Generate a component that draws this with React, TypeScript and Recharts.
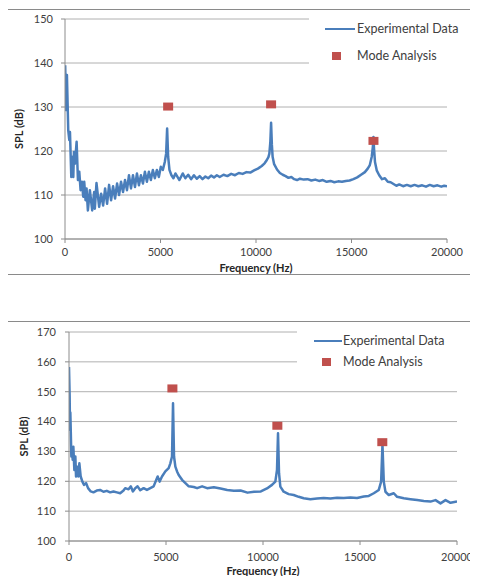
import {
  ComposedChart,
  Line,
  Scatter,
  XAxis,
  YAxis,
  CartesianGrid,
  Legend
} from 'recharts'

// [frequency Hz, SPL dB]
const topExperimental: [number, number][] = [
  [10, 139.5], [50, 129.3], [100, 137.3], [170, 124.7], [225, 122.5], [260, 124.3],
  [330, 114.1], [400, 118.7], [434, 114.1], [469, 119.8], [521, 117.1], [608, 122.1],
  [677, 113.4], [747, 115.3], [816, 111.1], [885, 113.0], [955, 109.6], [1007, 113.0],
  [1076, 108.8], [1128, 111.5], [1198, 106.5], [1302, 111.1], [1424, 106.5], [1528, 110.7],
  [1562, 106.9], [1649, 112.7], [1788, 107.3], [1892, 110.3], [1996, 107.6], [2100, 111.5],
  [2204, 108.0], [2309, 112.3], [2413, 108.8], [2517, 112.0], [2621, 109.2], [2726, 112.6],
  [2830, 110.0], [2934, 113.0], [3038, 110.7], [3142, 113.4], [3246, 111.1], [3350, 114.5],
  [3455, 111.5], [3559, 114.5], [3663, 111.8], [3767, 114.9], [3871, 112.2], [3975, 114.5],
  [4080, 112.6], [4184, 115.3], [4288, 113.0], [4392, 115.3], [4496, 113.4], [4600, 115.7],
  [4704, 113.8], [4809, 115.7], [4913, 114.1], [5017, 116.4], [5122, 115.7], [5225, 117.5],
  [5295, 119.4], [5347, 125.1], [5400, 118.7], [5469, 115.7], [5573, 114.5], [5677, 113.8],
  [5781, 114.9], [5990, 113.4], [6163, 114.9], [6300, 113.8], [6450, 114.6], [6600, 113.6],
  [6750, 114.5], [6900, 113.7], [7050, 114.3], [7200, 113.6], [7350, 114.2], [7500, 113.8],
  [7650, 114.4], [7800, 114.0], [7950, 114.5], [8100, 114.1], [8300, 114.6], [8500, 114.3],
  [8700, 114.8], [8900, 114.5], [9100, 115.0], [9300, 114.8], [9500, 115.2], [9700, 115.1],
  [9900, 115.6], [10100, 116.0], [10300, 116.6], [10450, 117.2], [10560, 117.9], [10650, 118.6],
  [10700, 119.4], [10750, 122.0], [10790, 126.4], [10830, 121.5], [10870, 118.7], [10950, 117.0],
  [11100, 115.8], [11250, 115.0], [11400, 114.6], [11550, 114.3], [11700, 113.9], [11850, 114.1],
  [12000, 113.6], [12150, 113.4], [12300, 113.7], [12500, 113.5], [12700, 113.6], [12900, 113.3],
  [13100, 113.5], [13300, 113.2], [13500, 113.4], [13700, 113.0], [13900, 113.2], [14100, 112.9],
  [14300, 113.1], [14500, 113.0], [14700, 113.2], [14900, 113.3], [15100, 113.6], [15300, 114.0],
  [15500, 114.6], [15700, 115.2], [15850, 116.0], [15960, 116.8], [16060, 118.7], [16120, 121.0],
  [16150, 123.2], [16180, 120.5], [16230, 117.5], [16320, 115.6], [16450, 114.5], [16600, 113.6],
  [16750, 113.8], [16900, 113.0], [17050, 112.9], [17200, 112.5], [17350, 112.1], [17500, 112.4],
  [17700, 112.0], [17900, 112.3], [18100, 112.0], [18300, 112.3], [18500, 112.0], [18700, 112.2],
  [18900, 111.9], [19100, 112.3], [19300, 112.0], [19500, 112.2], [19700, 111.9], [19850, 112.1],
  [20000, 112.0]
]
const topModes: [number, number][] = [[5400, 130.1], [10790, 130.6], [16150, 122.3]]

const bottomExperimental: [number, number][] = [
  [0, 158.3], [34, 148.3], [52, 137.2], [69, 143.0], [86, 138.3], [121, 128.3],
  [155, 131.6], [190, 127.2], [224, 131.6], [276, 123.8], [328, 128.3], [362, 121.6],
  [431, 124.9], [483, 121.6], [534, 126.0], [603, 121.6], [690, 119.9], [776, 118.8],
  [879, 119.4], [983, 117.7], [1121, 116.6], [1259, 116.3], [1431, 116.9], [1603, 117.1],
  [1776, 116.5], [1948, 116.8], [2121, 116.3], [2293, 116.6], [2466, 116.3], [2638, 116.0],
  [2810, 116.9], [2897, 117.7], [3069, 117.3], [3190, 118.3], [3293, 116.6], [3414, 117.7],
  [3535, 118.3], [3673, 117.0], [3845, 117.7], [4018, 117.1], [4190, 117.7], [4363, 118.3],
  [4500, 120.5], [4570, 121.6], [4673, 119.9], [4794, 121.6], [4966, 123.3], [5138, 124.4],
  [5224, 126.0], [5310, 128.3], [5362, 146.1], [5414, 128.3], [5483, 124.9], [5569, 123.3],
  [5655, 122.1], [5827, 120.5], [6000, 119.4], [6173, 118.3], [6431, 118.1], [6604, 117.7],
  [6862, 118.3], [7120, 117.7], [7465, 118.0], [7810, 117.6], [8155, 117.1], [8500, 116.8],
  [8845, 116.9], [9200, 116.2], [9540, 116.5], [9890, 116.6], [10206, 117.6], [10464, 118.8],
  [10636, 119.9], [10722, 123.8], [10774, 136.1], [10826, 122.7], [10894, 118.2], [11066, 116.5],
  [11324, 115.7], [11582, 115.4], [11840, 114.8], [12098, 114.3], [12442, 114.0], [12786, 114.2],
  [13130, 114.4], [13474, 114.2], [13818, 114.5], [14162, 114.4], [14506, 114.6], [14850, 114.4],
  [15194, 114.9], [15452, 115.1], [15710, 116.0], [15968, 117.1], [16089, 119.9], [16158, 132.2],
  [16226, 119.9], [16312, 116.5], [16484, 115.4], [16742, 116.0], [16914, 114.8], [17258, 114.3],
  [17602, 114.0], [17946, 113.7], [18290, 113.4], [18634, 113.2], [18892, 113.7], [19150, 112.6],
  [19408, 113.7], [19666, 112.8], [20000, 113.2]
]
const bottomModes: [number, number][] = [[5330, 151.1], [10740, 138.6], [16150, 133.1]]

const freqTicks = [0, 5000, 10000, 15000, 20000]
const topTicks = [100, 110, 120, 130, 140, 150]
const bottomTicks = [100, 110, 120, 130, 140, 150, 160, 170]

const seriesNames = ['Experimental Data', 'Mode Analysis']

const BLUE = '#4a7ebb'
const RED = '#c0504d'
const FONT = 'Lato, "DejaVu Sans", sans-serif'

const toRows = (pts: [number, number][]) => pts.map(([f, spl]) => ({ f, spl }))

const Square = (p: any) => (
  <rect x={p.cx - 5} y={p.cy - 4} width={10} height={8} fill={RED} />
)

function LegendBox({ lineX, lineW, lineY, sqX, sqY, textX }: any) {
  const txt = { position: 'absolute' as const, left: textX, fontSize: 12.5, color: '#404040', lineHeight: '14px', whiteSpace: 'nowrap' as const }
  return (
    <div style={{ position: 'relative', width: '100%', height: '100%' }}>
      <div style={{ position: 'absolute', left: lineX, top: lineY - 1, width: lineW, height: 2, background: BLUE }} />
      <div style={{ ...txt, top: lineY - 7 }}>{seriesNames[0]}</div>
      <div style={{ position: 'absolute', left: sqX - 4, top: sqY - 4, width: 9, height: 8, background: RED }} />
      <div style={{ ...txt, top: sqY - 7 }}>{seriesNames[1]}</div>
    </div>
  )
}

function SplChart(props: any) {
  const { width, height, margin, yAxisWidth, domain, yTicks, exp, modes, xTickMargin, yTickMargin, xAxisHeight, xLabelOffset, yLabelOffset, legendStyle, legend } = props
  return (
    <ComposedChart width={width} height={height} margin={margin}>
      <CartesianGrid vertical={false} stroke="#b0b0b0" />
      <XAxis
        type="number"
        dataKey="f"
        domain={[0, 20000]}
        ticks={freqTicks}
        allowDataOverflow
        height={xAxisHeight}
        stroke="#8c8c8c"
        tickSize={4}
        tickMargin={xTickMargin}
        tick={{ fill: '#404040', fontSize: 11, fontFamily: FONT }}
        label={{ value: 'Frequency (Hz)', position: 'insideBottom', offset: xLabelOffset, fill: '#262626', fontSize: 11, fontWeight: 700, fontFamily: FONT }}
      />
      <YAxis
        type="number"
        domain={domain}
        ticks={yTicks}
        allowDataOverflow
        width={yAxisWidth}
        stroke="#8c8c8c"
        tickSize={4}
        tickMargin={yTickMargin}
        tick={{ fill: '#404040', fontSize: 11, fontFamily: FONT }}
        label={{ value: 'SPL (dB)', angle: -90, position: 'insideLeft', offset: yLabelOffset, textAnchor: 'middle', fill: '#262626', fontSize: 11, fontWeight: 700, fontFamily: FONT }}
      />
      <Line
        data={toRows(exp)}
        dataKey="spl"
        name={seriesNames[0]}
        type="linear"
        stroke={BLUE}
        strokeWidth={2.5}
        strokeLinejoin="round"
        dot={false}
        activeDot={false}
        isAnimationActive={false}
      />
      <Scatter
        data={toRows(modes)}
        dataKey="spl"
        name={seriesNames[1]}
        shape={Square}
        isAnimationActive={false}
      />
      <Legend
        layout="vertical"
        align="center"
        verticalAlign="middle"
        wrapperStyle={legendStyle}
        content={() => <LegendBox {...legend} />}
      />
    </ComposedChart>
  )
}

export default function App() {
  return (
    <div style={{ position: 'relative', width: 478, height: 584, margin: -8, overflow: 'hidden', background: '#fff', fontFamily: FONT }}>
      <div style={{ position: 'absolute', left: 7, top: 9, width: 468, height: 264, border: '1px solid #8a8a8a' }}>
        <SplChart
          width={468}
          height={264}
          margin={{ top: 9, right: 29, left: 12, bottom: 0 }}
          yAxisWidth={45}
          domain={[100, 150]}
          yTicks={topTicks}
          exp={topExperimental}
          modes={topModes}
          xAxisHeight={35}
          xTickMargin={5}
          yTickMargin={8}
          xLabelOffset={2}
          yLabelOffset={-1}
          legendStyle={{ left: 301, top: 3, width: 160, height: 60, background: '#fff' }}
          legend={{ lineX: 16, lineW: 30, lineY: 16, sqX: 27, sqY: 43, textX: 48 }}
        />
      </div>
      <div style={{ position: 'absolute', left: 7, top: 321, width: 468, height: 270, borderTop: '1px solid #8a8a8a', borderLeft: '1px solid #8a8a8a', borderRight: '1px solid #8a8a8a' }}>
        <SplChart
          width={468}
          height={262}
          margin={{ top: 10, right: 19, left: 16, bottom: 3 }}
          yAxisWidth={45}
          domain={[100, 170]}
          yTicks={bottomTicks}
          exp={bottomExperimental}
          modes={bottomModes}
          xAxisHeight={40}
          xTickMargin={8}
          yTickMargin={9}
          xLabelOffset={6}
          yLabelOffset={0}
          legendStyle={{ left: 289, top: 4, width: 170, height: 48, background: '#fff' }}
          legend={{ lineX: 17, lineW: 28, lineY: 15, sqX: 29, sqY: 36, textX: 46 }}
        />
      </div>
    </div>
  )
}
